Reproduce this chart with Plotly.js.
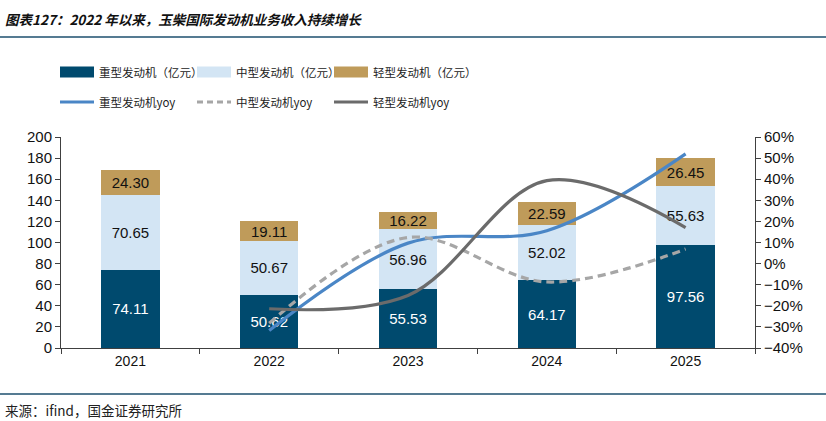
<!DOCTYPE html>
<html>
<head>
<meta charset="utf-8">
<script src="https://cdn.plot.ly/plotly-3.0.1.min.js"></script>
<style>
  html, body { margin: 0; padding: 0; background: #fff; }
  #chart { width: 826px; height: 421px; }
</style>
</head>
<body>
<div id="chart"></div>
<script>
// 数据（亿元 / 同比）
const years = ['2021', '2022', '2023', '2024', '2025'];
const heavyRev = [74.11, 50.62, 55.53, 64.17, 97.56];
const mediumRev = [70.65, 50.67, 56.96, 52.02, 55.63];
const lightRev = [24.30, 19.11, 16.22, 22.59, 26.45];

const yoyYears = ['2022', '2023', '2024', '2025'];
const heavyYoy = [-0.317, 0.097, 0.156, 0.520];
const mediumYoy = [-0.283, 0.124, -0.087, 0.069];
const lightYoy = [-0.214, -0.151, 0.393, 0.171];

const legendNames = [
    '重型发动机（亿元）', '中型发动机（亿元）', '轻型发动机（亿元）',
    '重型发动机yoy', '中型发动机yoy', '轻型发动机yoy'
];

const colors = {
    heavy: '#004a6e',
    medium: '#d3e5f4',
    light: '#bf9b5a',
    heavyLine: '#4a86c6',
    mediumLine: '#a6a6a6',
    lightLine: '#6b6b6b',
    rule: '#1d4f6e'
};

// plot area in pixels
const W = 826, H = 421;
const L = 61, R = 755, T = 137, B = 348;
const px = x => (x - L) / (R - L);
const py = y => (B - y) / (B - T);

const numFont = 'Liberation Sans, Arial, sans-serif';
const cjkFont = 'Noto Sans CJK SC, sans-serif';

function barTrace(name, values, color, textColor) {
    return {
        type: 'bar',
        name: name,
        x: years,
        y: values,
        marker: { color: color, line: { width: 0 } },
        text: values.map(v => v.toFixed(2)),
        textposition: 'inside',
        insidetextanchor: 'middle',
        constraintext: 'none',
        textfont: { family: numFont, size: 15, color: textColor },
        hoverinfo: 'skip'
    };
}

function lineTrace(name, values, color, dash) {
    return {
        type: 'scatter',
        mode: 'lines',
        name: name,
        x: yoyYears,
        y: values,
        yaxis: 'y2',
        line: { color: color, width: 3.2, shape: 'spline', smoothing: 1, dash: dash },
        hoverinfo: 'skip'
    };
}

const traces = [
    barTrace(legendNames[0], heavyRev, colors.heavy, '#ffffff'),
    barTrace(legendNames[1], mediumRev, colors.medium, '#111111'),
    barTrace(legendNames[2], lightRev, colors.light, '#111111'),
    lineTrace(legendNames[3], heavyYoy, colors.heavyLine, 'solid'),
    lineTrace(legendNames[4], mediumYoy, colors.mediumLine, '8px,5px'),
    lineTrace(legendNames[5], lightYoy, colors.lightLine, 'solid')
];

// custom legend (wide swatches like the original)
const legendCols = [60, 197, 334];
const legendRows = [72, 102];
const swatchW = 34;
const shapes = [];
const annotations = [];
const legendStyle = [
    { kind: 'rect', color: colors.heavy },
    { kind: 'rect', color: colors.medium },
    { kind: 'rect', color: colors.light },
    { kind: 'line', color: colors.heavyLine, dash: 'solid' },
    { kind: 'line', color: colors.mediumLine, dash: '6px,4px' },
    { kind: 'line', color: colors.lightLine, dash: 'solid' }
];
legendNames.forEach((name, i) => {
    const cx = legendCols[i % 3];
    const cy = legendRows[Math.floor(i / 3)];
    const st = legendStyle[i];
    if (st.kind === 'rect') {
        shapes.push({
            type: 'rect', xref: 'paper', yref: 'paper',
            x0: px(cx), x1: px(cx + swatchW), y0: py(cy + 5.5), y1: py(cy - 5.5),
            fillcolor: st.color, line: { width: 0 }
        });
    } else {
        shapes.push({
            type: 'line', xref: 'paper', yref: 'paper',
            x0: px(cx), x1: px(cx + swatchW), y0: py(cy), y1: py(cy),
            line: { color: st.color, width: 3.2, dash: st.dash }
        });
    }
    annotations.push({
        xref: 'paper', yref: 'paper',
        x: px(cx + swatchW + 3), y: py(cy),
        xanchor: 'left', yanchor: 'middle',
        text: name, showarrow: false,
        font: { family: cjkFont, size: 11.5, color: '#222' }
    });
});

// title, rules and source
shapes.push({
    type: 'line', xref: 'paper', yref: 'paper',
    x0: px(0), x1: px(W), y0: py(37), y1: py(37),
    line: { color: colors.rule, width: 1.3 }
});
shapes.push({
    type: 'line', xref: 'paper', yref: 'paper',
    x0: px(0), x1: px(W), y0: py(394), y1: py(394),
    line: { color: colors.rule, width: 1.3 }
});
annotations.push({
    xref: 'paper', yref: 'paper', x: px(3), y: py(19),
    xanchor: 'left', yanchor: 'middle', showarrow: false,
    text: '<b><i>图表127：2022 年以来，玉柴国际发动机业务收入持续增长</i></b>',
    font: { family: cjkFont, size: 13.5, color: '#111' }
});
annotations.push({
    xref: 'paper', yref: 'paper', x: px(3), y: py(410),
    xanchor: 'left', yanchor: 'middle', showarrow: false,
    text: '来源：ifind，国金证券研究所',
    font: { family: cjkFont, size: 13.5, color: '#222' }
});

const layout = {
    width: W,
    height: H,
    margin: { l: L, r: W - R, t: T, b: H - B, pad: 0 },
    paper_bgcolor: '#ffffff',
    plot_bgcolor: '#ffffff',
    barmode: 'stack',
    bargap: 0.58,
    showlegend: false,
    font: { family: numFont, size: 14, color: '#111' },
    xaxis: {
        type: 'category',
        range: [-0.5, 4.5],
        showline: true, linecolor: '#404040', linewidth: 1,
        ticks: 'outside', tickson: 'boundaries', ticklen: 5, tickcolor: '#404040',
        showgrid: false, zeroline: false,
        tickfont: { family: numFont, size: 14, color: '#111' },
        fixedrange: true
    },
    yaxis: {
        range: [0, 200], dtick: 20,
        showline: true, linecolor: '#404040', linewidth: 1,
        ticks: 'outside', ticklen: 5, tickcolor: '#404040',
        showgrid: false, zeroline: false,
        tickfont: { family: numFont, size: 15, color: '#111' },
        fixedrange: true
    },
    yaxis2: {
        overlaying: 'y', side: 'right',
        range: [-0.4, 0.6], dtick: 0.1, tickformat: '.0%',
        showline: true, linecolor: '#404040', linewidth: 1,
        ticks: 'outside', ticklen: 5, tickcolor: '#404040',
        showgrid: false, zeroline: false,
        tickfont: { family: numFont, size: 15, color: '#111' },
        fixedrange: true
    },
    shapes: shapes,
    annotations: annotations
};

document.addEventListener('DOMContentLoaded', () => {
    Plotly.newPlot('chart', traces, layout, { staticPlot: true, displayModeBar: false });
});
</script>
</body>
</html>
